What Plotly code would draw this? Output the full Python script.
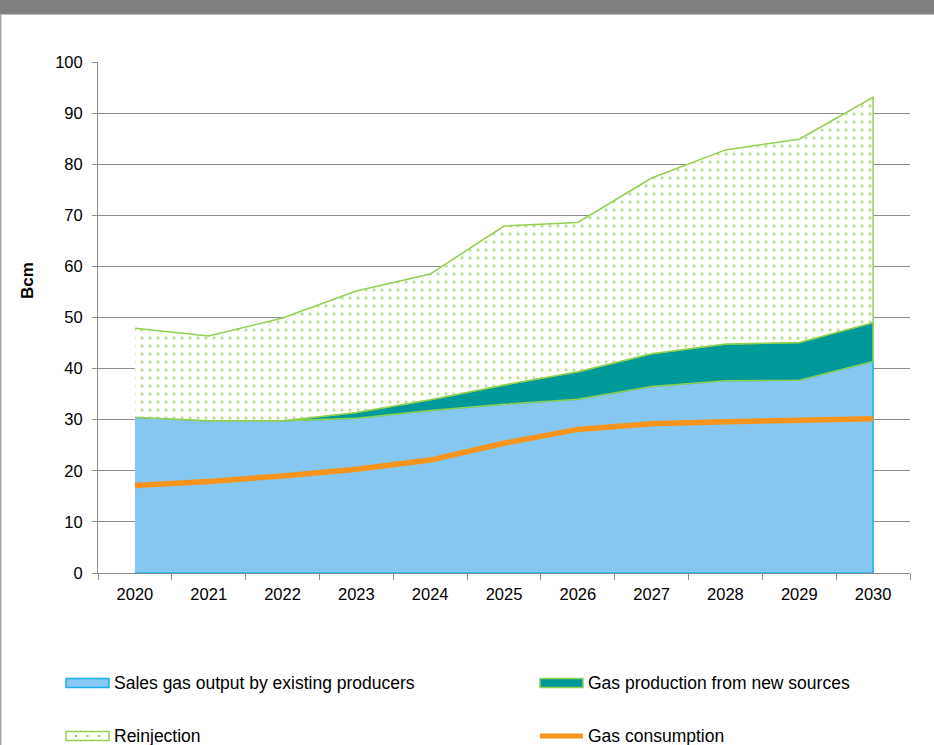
import numpy as np
import plotly.graph_objects as go

# Gas balance, Bcm per year
years = ["2020", "2021", "2022", "2023", "2024", "2025", "2026", "2027", "2028", "2029", "2030"]
existing_producers = [30.5, 29.8, 29.8, 30.3, 31.8, 33.0, 34.0, 36.5, 37.6, 37.7, 41.4]
new_sources = [0.0, 0.0, 0.0, 1.1, 2.1, 3.8, 5.4, 6.4, 7.2, 7.4, 7.6]
reinjection = [17.4, 16.6, 20.1, 23.8, 24.6, 31.1, 29.2, 34.4, 38.0, 39.8, 44.1]
consumption = [17.1, 17.9, 19.0, 20.3, 22.1, 25.4, 28.1, 29.2, 29.6, 29.9, 30.2]

series_names = [
    "Sales gas output by existing producers",
    "Gas production from new sources",
    "Reinjection",
    "Gas consumption",
]

W, H = 934, 745
FONT = "Liberation Sans, Arial, sans-serif"
GREEN = "#92D050"
DOT_GREEN = "#86C544"
BLUE_FILL = "#86C8F1"
BLUE_LINE = "#1AAEEA"
TEAL = "#009999"
ORANGE = "#F7941D"
GRID = "#8C8C8C"

base = np.array(existing_producers)
mid = base + np.array(new_sources)
top = mid + np.array(reinjection)

x_poly = years + years[::-1]


def px_x(v):
    return v / W


def px_y(v):
    return 1 - v / H


fig = go.Figure()

# Stacked areas drawn as closed polygons so each band gets a full outline
fig.add_trace(go.Scatter(
    x=x_poly, y=list(base) + [0.0] * len(years),
    fill="toself", fillcolor=BLUE_FILL, mode="lines",
    line=dict(color=BLUE_LINE, width=1.5),
    name=series_names[0], hoverinfo="skip",
))
fig.add_trace(go.Scatter(
    x=x_poly, y=list(mid) + list(base[::-1]),
    fill="toself", fillcolor=TEAL, mode="lines",
    line=dict(color=GREEN, width=1.5),
    name=series_names[1], hoverinfo="skip",
))
fig.add_trace(go.Scatter(
    x=x_poly, y=list(top) + list(mid[::-1]),
    fill="toself", fillcolor="white", mode="lines",
    fillpattern=dict(shape=".", fgcolor=DOT_GREEN, bgcolor="white", size=8, solidity=0.16),
    line=dict(color=GREEN, width=1.5),
    name=series_names[2], hoverinfo="skip",
))
fig.add_trace(go.Scatter(
    x=years, y=consumption, mode="lines",
    line=dict(color=ORANGE, width=5.5),
    name=series_names[3],
))

shapes = [
    # header band
    dict(type="rect", xref="paper", yref="paper", x0=0, x1=1,
         y0=px_y(14.5), y1=1, fillcolor="#7F807F", line=dict(width=0), layer="above"),
    # frame edge on the left
    dict(type="line", xref="paper", yref="paper", x0=px_x(0.75), x1=px_x(0.75),
         y0=0, y1=px_y(14.5), line=dict(color="#A6A6A6", width=1.5)),
]
annotations = [
    dict(text="<b>Bcm</b>", xref="paper", yref="paper",
         x=px_x(27), y=px_y(281), textangle=-90, showarrow=False,
         font=dict(family=FONT, size=17, color="#000000"),
         xanchor="center", yanchor="middle"),
]

# Legend: swatch + label, laid out in two columns
legend_slots = [(66, 683), (540, 683), (66, 736), (540, 736)]
swatch_styles = [
    dict(fill=BLUE_FILL, edge=BLUE_LINE),
    dict(fill=TEAL, edge=GREEN),
    dict(fill="white", edge=GREEN),
    None,
]
SW_W, SW_H = 43, 9
for name, (lx, ly), style in zip(series_names, legend_slots, swatch_styles):
    if style is None:
        shapes.append(dict(type="line", xref="paper", yref="paper",
                           x0=px_x(lx), x1=px_x(lx + SW_W), y0=px_y(ly), y1=px_y(ly),
                           line=dict(color=ORANGE, width=5)))
    else:
        shapes.append(dict(type="rect", xref="paper", yref="paper",
                           x0=px_x(lx), x1=px_x(lx + SW_W),
                           y0=px_y(ly + SW_H / 2), y1=px_y(ly - SW_H / 2),
                           fillcolor=style["fill"], line=dict(color=style["edge"], width=1.5)))
        if style["fill"] == "white":
            for dx in (10, 21.5, 33):
                shapes.append(dict(type="rect", xref="paper", yref="paper",
                                   x0=px_x(lx + dx - 1), x1=px_x(lx + dx + 1),
                                   y0=px_y(ly + 1), y1=px_y(ly - 1),
                                   fillcolor=DOT_GREEN, line=dict(width=0)))
    annotations.append(dict(text=name, xref="paper", yref="paper",
                            x=px_x(lx + SW_W + 3), y=px_y(ly), showarrow=False,
                            xanchor="left", yanchor="middle",
                            font=dict(family=FONT, size=17.5, color="#000000")))

fig.update_layout(
    width=W, height=H,
    margin=dict(l=0, r=0, t=0, b=0, pad=0),
    paper_bgcolor="white", plot_bgcolor="white",
    font=dict(family=FONT, size=16, color="#000000"),
    showlegend=False,
    xaxis=dict(
        type="category", range=[-0.5, 10.5],
        domain=[px_x(98), px_x(910)],
        automargin=False,
        tickson="boundaries", ticks="outside", ticklen=6, tickcolor=GRID,
        showline=True, linecolor=GRID, linewidth=1,
        showgrid=False, zeroline=False,
        ticklabelstandoff=6,
        tickfont=dict(family=FONT, size=16.5, color="#000000"),
    ),
    yaxis=dict(
        range=[0, 100], dtick=10,
        domain=[px_y(573), px_y(62)],
        automargin=False,
        ticks="outside", ticklen=5, tickcolor=GRID,
        showline=True, linecolor=GRID, linewidth=1,
        showgrid=True, gridcolor=GRID, gridwidth=1, zeroline=False,
        ticklabelstandoff=6,
        tickfont=dict(family=FONT, size=16.5, color="#000000"),
    ),
    shapes=shapes,
    annotations=annotations,
)

fig.write_html("out.html")
